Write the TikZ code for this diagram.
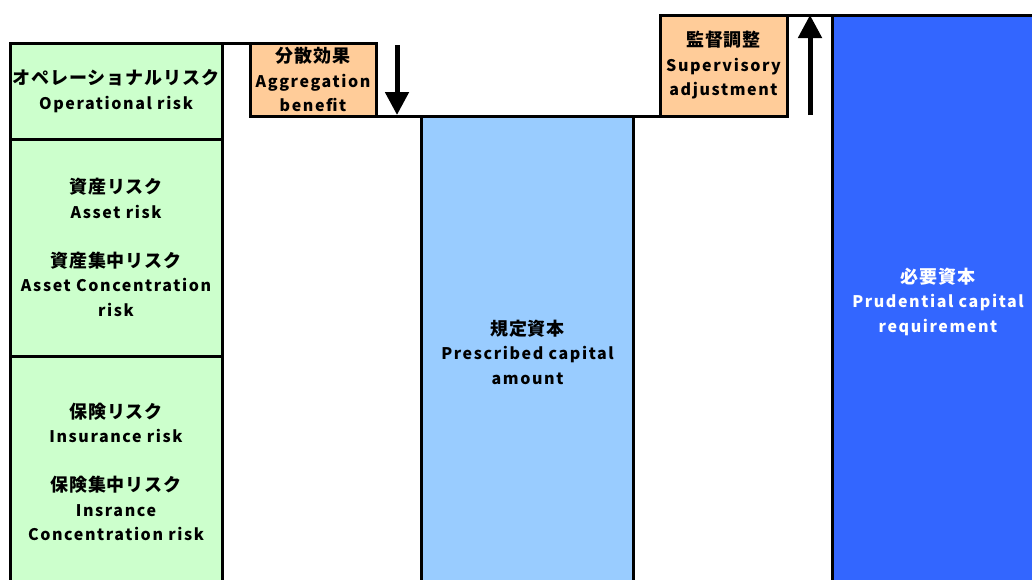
\documentclass[tikz,border=0pt]{standalone}
\usepackage{fontspec}
\setmainfont{Noto Sans CJK JP}[LetterSpace=10]
\newfontfamily\jpfont{Noto Sans CJK JP}[LetterSpace=5]
\newcommand{\jp}[1]{{\jpfont\fontsize{18}{24.5}\selectfont #1}}
\usetikzlibrary{arrows.meta}
\definecolor{riskgreen}{HTML}{CCFFCC}
\definecolor{adjorange}{HTML}{FFCC99}
\definecolor{pcablue}{HTML}{99CCFF}
\definecolor{pcrblue}{HTML}{3366FF}

\begin{document}
\begin{tikzpicture}[x=1pt, y=-1pt]

% Styles
\tikzset{
    boxstyle/.style={rectangle, draw, line width=3pt, outer sep=0pt, align=center, inner sep=0pt, font=\bfseries\fontsize{16}{24.5}\selectfont},
    riskbox/.style={boxstyle, fill=riskgreen, minimum width=212pt},
    adjbox/.style={boxstyle, fill=adjorange},
    capbox/.style={boxstyle, minimum width=212pt},
    levelline/.style={line width=3pt},
    bigarrow/.style={-{Triangle[width=23pt,length=23pt]}, line width=5pt}
}

\useasboundingbox (0,0) rectangle (1032,579);
\clip (0,0) rectangle (1032,579);

% Risk components
\node[riskbox, minimum height=96pt] (op) at (116,91) {\jp{オペレーショナルリスク}\\Operational risk};
\node[riskbox, minimum height=217pt] (asset) at (116,247.5) {\jp{資産リスク}\\Asset risk\\[24.5pt]\jp{資産集中リスク}\\Asset Concentration\\risk};
\node[riskbox, minimum height=232pt] (ins) at (116,472) {\jp{保険リスク}\\Insurance risk\\[24.5pt]\jp{保険集中リスク}\\Insrance\\Concentration risk};

% Adjustments
\node[adjbox, minimum width=126pt, minimum height=73pt] (agg) at (313,79.5) {\jp{分散効果}\\Aggregation\\benefit};
\node[adjbox, minimum width=127pt, minimum height=101pt] (sup) at (723.5,65.5) {\jp{監督調整}\\Supervisory\\adjustment};

% Capital amounts
\node[capbox, fill=pcablue, minimum height=472pt] (pca) at (527.5,352) {\jp{規定資本}\\Prescribed capital\\amount};
\node[capbox, fill=pcrblue, text=white, minimum height=573pt] (pcr) at (938,301.5) {\jp{必要資本}\\Prudential capital\\requirement};

% Levels
\draw[levelline] (op.north east) -- (agg.north west);
\draw[levelline] (agg.south west) -- (sup.south east);
\draw[levelline] (sup.north east) -- (pcr.north west);

% Arrows
\coordinate (aggtail) at (397,45);
\coordinate (aggtip) at (397,115);
\coordinate (suptail) at (810,115);
\coordinate (suptip) at (810,15);
\draw[bigarrow] (aggtail) -- (aggtip);
\draw[bigarrow] (suptail) -- (suptip);

\end{tikzpicture}
\end{document}
